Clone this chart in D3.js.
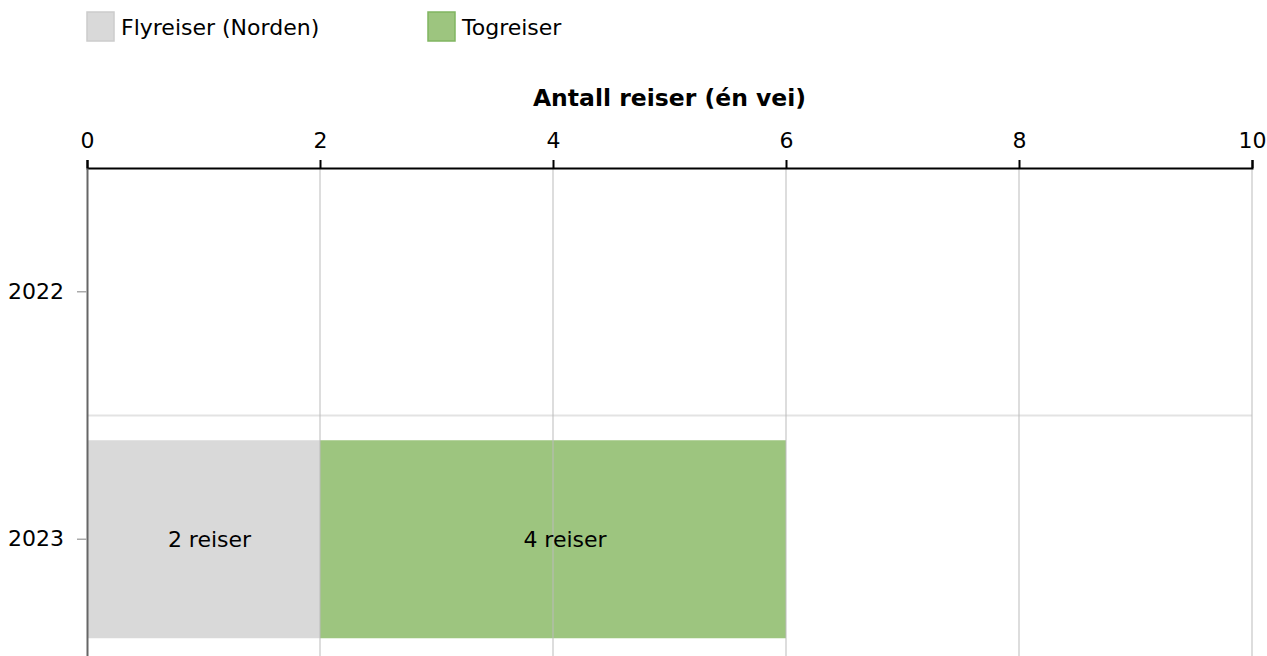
<!DOCTYPE html>
<html>
<head>
<meta charset="utf-8">
<script src="https://cdn.jsdelivr.net/npm/d3@7"></script>
<style>
body { margin: 0; background: #fff; overflow: hidden; }
text { font-family: "DejaVu Sans", Verdana, sans-serif; fill: #000; }
</style>
</head>
<body>
<div id="chart"></div>
<script>
var years = ["2022", "2023"];
var seriesNames = ["Flyreiser (Norden)", "Togreiser"];
var flyValues = [0, 2];
var togValues = [0, 4];
var xTicks = [0, 2, 4, 6, 8, 10];

var width = 1267, height = 656;
var margin = {top: 168, left: 87, right: 15};
var colors = ["#d9d9d9", "#9dc57f"];
var strokes = ["#cccccc", "#80b560"];

var svg = d3.select("#chart").append("svg")
  .attr("width", width)
  .attr("height", height);

var x = d3.scaleLinear().domain([0, 10]).range([margin.left, width - margin.right]);
var y = d3.scaleBand().domain(years).range([margin.top, margin.top + 495]).paddingInner(0.2).paddingOuter(0.1);

// stacked data
var rows = years.map(function(yr, i) {
  return {year: yr, fly: flyValues[i], tog: togValues[i]};
});
var stack = d3.stack().keys(["fly", "tog"]);
var layers = stack(rows);

// band separator
svg.append("line")
  .attr("x1", x(0)).attr("x2", x(10))
  .attr("y1", margin.top + y.step()).attr("y2", margin.top + y.step())
  .attr("stroke", "#e3e3e3").attr("stroke-width", 2);

var g = svg.selectAll(".layer")
  .data(layers)
  .enter().append("g")
  .attr("fill", function(d, i) { return colors[i]; });

g.selectAll("rect")
  .data(function(d) { return d.filter(function(p) { return p[1] > p[0]; }); })
  .enter().append("rect")
  .attr("x", function(d) { return x(d[0]); })
  .attr("width", function(d) { return x(d[1]) - x(d[0]); })
  .attr("y", function(d) { return y(d.data.year); })
  .attr("height", y.bandwidth());

// gridlines over bars
svg.selectAll(".grid")
  .data(xTicks.slice(1))
  .enter().append("line")
  .attr("x1", function(d) { return x(d); })
  .attr("x2", function(d) { return x(d); })
  .attr("y1", margin.top).attr("y2", height)
  .attr("stroke", "#bbbbbb").attr("stroke-opacity", 0.5).attr("stroke-width", 2);

// bar labels
layers.forEach(function(layer) {
  layer.forEach(function(p) {
    if (p[1] > p[0]) {
      svg.append("text")
        .attr("x", (x(p[0]) + x(p[1])) / 2 + 3 * (p[1] - p[0]))
        .attr("y", y(p.data.year) + y.bandwidth() / 2)
        .attr("dy", "0.35em")
        .attr("text-anchor", "middle")
        .style("font-size", "22px")
        .text((p[1] - p[0]) + " reiser");
    }
  });
});

// top x axis
var xAxis = svg.append("g")
  .attr("transform", "translate(0," + margin.top + ")")
  .call(d3.axisTop(x).tickValues(xTicks).tickSize(8).tickPadding(12).tickFormat(d3.format("d")));
xAxis.select(".domain").attr("stroke", "#000").attr("stroke-width", 2);
xAxis.selectAll(".tick line").attr("stroke", "#000").attr("stroke-width", 2);
xAxis.selectAll(".tick text").style("font-size", "22px").attr("font-family", null);

svg.append("text")
  .attr("x", (x(0) + x(10)) / 2)
  .attr("y", 106)
  .attr("text-anchor", "middle")
  .style("font-size", "23.5px")
  .style("font-weight", "bold")
  .text("Antall reiser (én vei)");

// left y axis
var yAxis = svg.append("g")
  .attr("transform", "translate(" + margin.left + ",0)")
  .call(d3.axisLeft(y).tickSize(10).tickPadding(13).tickSizeOuter(0));
yAxis.select(".domain").attr("stroke", "#666").attr("stroke-width", 2);
yAxis.selectAll(".tick line").attr("stroke", "#aaa").attr("stroke-width", 1.5);
yAxis.selectAll(".tick text").style("font-size", "22px").attr("font-family", null);

// legend
var legendX = [87, 428];
var legend = svg.selectAll(".legend")
  .data(seriesNames)
  .enter().append("g")
  .attr("transform", function(d, i) { return "translate(" + legendX[i] + ",12)"; });
legend.append("rect")
  .attr("width", 27).attr("height", 29)
  .attr("fill", function(d, i) { return colors[i]; })
  .attr("stroke", function(d, i) { return strokes[i]; })
  .attr("stroke-width", 1.5);
legend.append("text")
  .attr("x", 34).attr("y", 15)
  .attr("dy", "0.35em")
  .style("font-size", "22px")
  .text(function(d) { return d; });
</script>
</body>
</html>
